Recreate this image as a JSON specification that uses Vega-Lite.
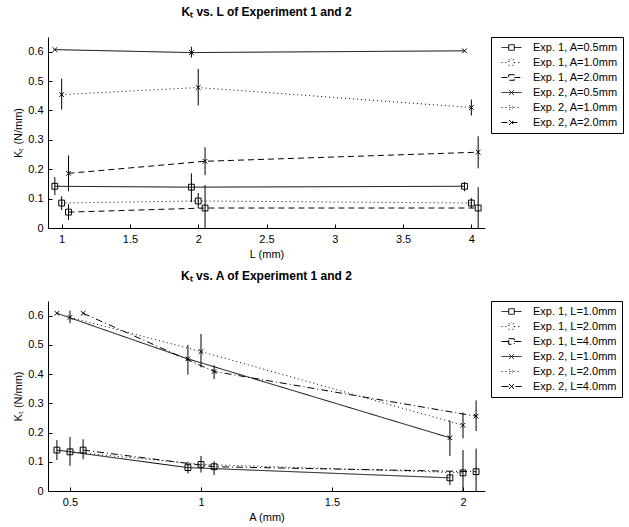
{
  "$schema": "https://vega.github.io/schema/vega-lite/v6.json",
  "background": "white",
  "padding": {"left": 12, "top": 5, "right": 1, "bottom": 5},
  "spacing": 10,
  "config": {
    "view": {"stroke": null},
    "font": "Liberation Sans",
    "axis": {
      "grid": false,
      "domainColor": "black",
      "tickColor": "black",
      "labelColor": "black",
      "titleColor": "black",
      "labelFontSize": 11,
      "titleFontSize": 11,
      "titleFontWeight": "normal",
      "tickSize": -4,
      "labelPadding": 9
    },
    "title": {"fontSize": 12, "fontWeight": "bold", "color": "black", "anchor": "middle", "offset": 18},
    "legend": {
      "title": null,
      "orient": "right",
      "offset": 6,
      "strokeColor": "black",
      "padding": 5,
      "labelFontSize": 11,
      "labelColor": "black",
      "symbolSize": 31,
      "symbolStrokeColor": "black",
      "symbolStrokeWidth": 1,
      "symbolOffset": 10,
      "labelOffset": 16,
      "rowPadding": 3
    }
  },
  "datasets": {
    "byL": [
      {"series": "Exp. 1, A=0.5mm", "exp": "Exp. 1", "x": 0.95, "k": 0.142, "lo": 0.112, "hi": 0.173},
      {"series": "Exp. 1, A=0.5mm", "exp": "Exp. 1", "x": 1.95, "k": 0.139, "lo": 0.088, "hi": 0.186},
      {"series": "Exp. 1, A=0.5mm", "exp": "Exp. 1", "x": 3.95, "k": 0.142, "lo": 0.125, "hi": 0.156},
      {"series": "Exp. 1, A=1.0mm", "exp": "Exp. 1", "x": 1.0, "k": 0.085, "lo": 0.061, "hi": 0.108},
      {"series": "Exp. 1, A=1.0mm", "exp": "Exp. 1", "x": 2.0, "k": 0.092, "lo": 0.068, "hi": 0.119},
      {"series": "Exp. 1, A=1.0mm", "exp": "Exp. 1", "x": 4.0, "k": 0.085, "lo": 0.068, "hi": 0.102},
      {"series": "Exp. 1, A=2.0mm", "exp": "Exp. 1", "x": 1.05, "k": 0.054, "lo": 0.027, "hi": 0.081},
      {"series": "Exp. 1, A=2.0mm", "exp": "Exp. 1", "x": 2.05, "k": 0.068, "lo": 0, "hi": 0.146},
      {"series": "Exp. 1, A=2.0mm", "exp": "Exp. 1", "x": 4.05, "k": 0.068, "lo": 0, "hi": 0.139},
      {"series": "Exp. 2, A=0.5mm", "exp": "Exp. 2", "x": 0.95, "k": 0.607, "lo": 0.607, "hi": 0.607},
      {"series": "Exp. 2, A=0.5mm", "exp": "Exp. 2", "x": 1.95, "k": 0.597, "lo": 0.58, "hi": 0.617},
      {"series": "Exp. 2, A=0.5mm", "exp": "Exp. 2", "x": 3.95, "k": 0.603, "lo": 0.603, "hi": 0.603},
      {"series": "Exp. 2, A=1.0mm", "exp": "Exp. 2", "x": 1.0, "k": 0.454, "lo": 0.403, "hi": 0.508},
      {"series": "Exp. 2, A=1.0mm", "exp": "Exp. 2", "x": 2.0, "k": 0.478, "lo": 0.417, "hi": 0.542},
      {"series": "Exp. 2, A=1.0mm", "exp": "Exp. 2", "x": 4.0, "k": 0.41, "lo": 0.383, "hi": 0.437},
      {"series": "Exp. 2, A=2.0mm", "exp": "Exp. 2", "x": 1.05, "k": 0.186, "lo": 0.125, "hi": 0.247},
      {"series": "Exp. 2, A=2.0mm", "exp": "Exp. 2", "x": 2.05, "k": 0.227, "lo": 0.18, "hi": 0.275},
      {"series": "Exp. 2, A=2.0mm", "exp": "Exp. 2", "x": 4.05, "k": 0.258, "lo": 0.203, "hi": 0.312}
    ],
    "byA": [
      {"series": "Exp. 1, L=1.0mm", "exp": "Exp. 1", "x": 0.45, "k": 0.14, "lo": 0.106, "hi": 0.174},
      {"series": "Exp. 1, L=1.0mm", "exp": "Exp. 1", "x": 0.95, "k": 0.08, "lo": 0.06, "hi": 0.1},
      {"series": "Exp. 1, L=1.0mm", "exp": "Exp. 1", "x": 1.95, "k": 0.045, "lo": 0.02, "hi": 0.068},
      {"series": "Exp. 1, L=2.0mm", "exp": "Exp. 1", "x": 0.5, "k": 0.134, "lo": 0.086, "hi": 0.185},
      {"series": "Exp. 1, L=2.0mm", "exp": "Exp. 1", "x": 1.0, "k": 0.091, "lo": 0.063, "hi": 0.12},
      {"series": "Exp. 1, L=2.0mm", "exp": "Exp. 1", "x": 2.0, "k": 0.062, "lo": 0, "hi": 0.14},
      {"series": "Exp. 1, L=4.0mm", "exp": "Exp. 1", "x": 0.55, "k": 0.14, "lo": 0.109, "hi": 0.177},
      {"series": "Exp. 1, L=4.0mm", "exp": "Exp. 1", "x": 1.05, "k": 0.083, "lo": 0.055, "hi": 0.102},
      {"series": "Exp. 1, L=4.0mm", "exp": "Exp. 1", "x": 2.05, "k": 0.066, "lo": 0, "hi": 0.145},
      {"series": "Exp. 2, L=1.0mm", "exp": "Exp. 2", "x": 0.45, "k": 0.608, "lo": 0.608, "hi": 0.608},
      {"series": "Exp. 2, L=1.0mm", "exp": "Exp. 2", "x": 0.95, "k": 0.452, "lo": 0.398, "hi": 0.5},
      {"series": "Exp. 2, L=1.0mm", "exp": "Exp. 2", "x": 1.95, "k": 0.182, "lo": 0.12, "hi": 0.242},
      {"series": "Exp. 2, L=2.0mm", "exp": "Exp. 2", "x": 0.5, "k": 0.594, "lo": 0.574, "hi": 0.617},
      {"series": "Exp. 2, L=2.0mm", "exp": "Exp. 2", "x": 1.0, "k": 0.477, "lo": 0.423, "hi": 0.537},
      {"series": "Exp. 2, L=2.0mm", "exp": "Exp. 2", "x": 2.0, "k": 0.225, "lo": 0.18, "hi": 0.268},
      {"series": "Exp. 2, L=4.0mm", "exp": "Exp. 2", "x": 0.55, "k": 0.608, "lo": 0.608, "hi": 0.608},
      {"series": "Exp. 2, L=4.0mm", "exp": "Exp. 2", "x": 1.05, "k": 0.409, "lo": 0.383, "hi": 0.43},
      {"series": "Exp. 2, L=4.0mm", "exp": "Exp. 2", "x": 2.05, "k": 0.256, "lo": 0.205, "hi": 0.31}
    ]
  },
  "resolve": {
    "scale": {"strokeDash": "independent", "x": "independent"},
    "legend": {"strokeDash": "independent"}
  },
  "vconcat": [
    {
      "title": {"text": "Kₜ vs. L of Experiment 1 and 2"},
      "width": 437,
      "height": 191,
      "data": {"name": "byL"},
      "encoding": {
        "x": {"field": "x", "type": "quantitative", "title": "L (mm)",
              "scale": {"domain": [0.9, 4.1], "nice": false, "zero": false},
              "axis": {"values": [1, 1.5, 2, 2.5, 3, 3.5, 4], "format": "~g"}},
        "y": {"field": "k", "type": "quantitative", "title": "Kₜ (N/mm)",
              "scale": {"domain": [0, 0.65], "nice": false},
              "axis": {"values": [0, 0.1, 0.2, 0.3, 0.4, 0.5, 0.6], "format": "~g"}}
      },
      "layer": [
        {
          "mark": {"type": "line", "color": "black", "strokeWidth": 1},
          "encoding": {
            "strokeDash": {"field": "series", "type": "nominal",
              "scale": {"domain": ["Exp. 1, A=0.5mm", "Exp. 1, A=1.0mm", "Exp. 1, A=2.0mm", "Exp. 2, A=0.5mm", "Exp. 2, A=1.0mm", "Exp. 2, A=2.0mm"],
                        "range": [[1, 0], [1, 3], [6, 4], [1, 0], [1, 3], [6, 4]]},
              "legend": {
                "encode": {"symbols": {"update": {
                  "shape": {"signal": "indexof(datum.value, 'Exp. 1') >= 0 ? 'M-3.6,0L-1,0M-1,-1L1,-1L1,1L-1,1ZM1,0L3.6,0' : 'M-3.6,0L3.6,0M-0.9,-0.9L0.9,0.9M-0.9,0.9L0.9,-0.9'"},
                  "stroke": {"value": "black"},
                  "fill": {"value": "transparent"}
                }}}
              }}
          }
        },
        {
          "mark": {"type": "rule", "color": "black", "strokeWidth": 1},
          "encoding": {
            "y": {"field": "lo", "type": "quantitative", "title": "Kₜ (N/mm)"},
            "y2": {"field": "hi"}
          }
        },
        {
          "mark": {"type": "point", "filled": false, "color": "black", "strokeWidth": 1, "size": 34, "opacity": 1},
          "encoding": {
            "shape": {"field": "exp", "type": "nominal", "legend": null,
              "scale": {"domain": ["Exp. 1", "Exp. 2"],
                        "range": ["square", "M-0.8,-0.8L0.8,0.8M-0.8,0.8L0.8,-0.8"]}}
          }
        }
      ]
    },
    {
      "title": {"text": "Kₜ vs. A of Experiment 1 and 2"},
      "width": 437,
      "height": 190,
      "data": {"name": "byA"},
      "encoding": {
        "x": {"field": "x", "type": "quantitative", "title": "A (mm)",
              "scale": {"domain": [0.416, 2.084], "nice": false, "zero": false},
              "axis": {"values": [0.5, 1, 1.5, 2], "format": "~g"}},
        "y": {"field": "k", "type": "quantitative", "title": "Kₜ (N/mm)",
              "scale": {"domain": [0, 0.65], "nice": false},
              "axis": {"values": [0, 0.1, 0.2, 0.3, 0.4, 0.5, 0.6], "format": "~g"}}
      },
      "layer": [
        {
          "mark": {"type": "line", "color": "black", "strokeWidth": 1},
          "encoding": {
            "strokeDash": {"field": "series", "type": "nominal",
              "scale": {"domain": ["Exp. 1, L=1.0mm", "Exp. 1, L=2.0mm", "Exp. 1, L=4.0mm", "Exp. 2, L=1.0mm", "Exp. 2, L=2.0mm", "Exp. 2, L=4.0mm"],
                        "range": [[1, 0], [1, 3], [7, 3, 1, 3], [1, 0], [1, 3], [7, 3, 1, 3]]},
              "legend": {
                "encode": {"symbols": {"update": {
                  "shape": {"signal": "indexof(datum.value, 'Exp. 1') >= 0 ? 'M-3.6,0L-1,0M-1,-1L1,-1L1,1L-1,1ZM1,0L3.6,0' : 'M-3.6,0L3.6,0M-0.9,-0.9L0.9,0.9M-0.9,0.9L0.9,-0.9'"},
                  "stroke": {"value": "black"},
                  "fill": {"value": "transparent"}
                }}}
              }}
          }
        },
        {
          "mark": {"type": "rule", "color": "black", "strokeWidth": 1},
          "encoding": {
            "y": {"field": "lo", "type": "quantitative", "title": "Kₜ (N/mm)"},
            "y2": {"field": "hi"}
          }
        },
        {
          "mark": {"type": "point", "filled": false, "color": "black", "strokeWidth": 1, "size": 34, "opacity": 1},
          "encoding": {
            "shape": {"field": "exp", "type": "nominal", "legend": null,
              "scale": {"domain": ["Exp. 1", "Exp. 2"],
                        "range": ["square", "M-0.8,-0.8L0.8,0.8M-0.8,0.8L0.8,-0.8"]}}
          }
        }
      ]
    }
  ]
}
